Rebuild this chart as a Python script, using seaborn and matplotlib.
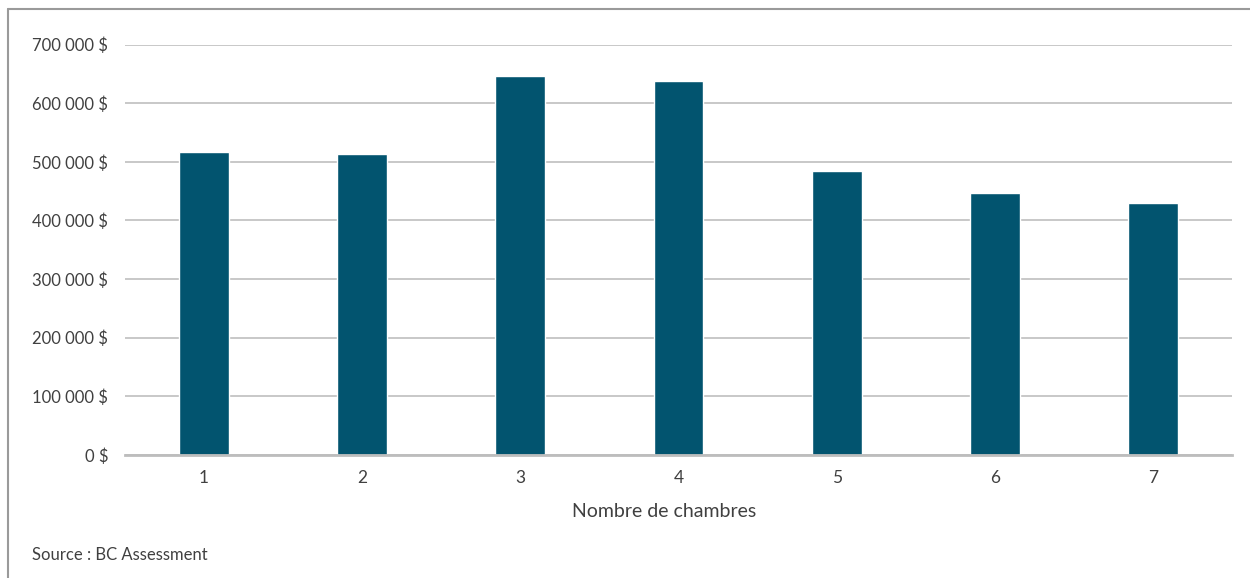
import matplotlib
matplotlib.use("Agg")
import matplotlib.pyplot as plt
from matplotlib.lines import Line2D
from matplotlib.ticker import FuncFormatter
import pandas as pd
import seaborn as sns

# Average assessed value by number of bedrooms
bedrooms = ["1", "2", "3", "4", "5", "6", "7"]
values = [516000, 513000, 647000, 637000, 485000, 447000, 430000]
y_ticks = [0, 100000, 200000, 300000, 400000, 500000, 600000, 700000]

x_title = "Nombre de chambres"
source_note = "Source : BC Assessment"

BAR = "#02546F"
TEXT = "#404040"
GRID = "#C8C8C8"

sns.set_theme(style="white")
plt.rcParams["font.family"] = ["Lato", "DejaVu Sans"]

df = pd.DataFrame({"chambres": bedrooms, "valeur": values})

fig = plt.figure(figsize=(12.5, 5.78), dpi=100)
ax = fig.add_axes([0.1, 0.2128, 0.8856, 0.7102])

sns.barplot(data=df, x="chambres", y="valeur", color=BAR, width=0.316,
            saturation=1, ax=ax, zorder=3)

ax.set_ylim(0, 700000)
ax.set_yticks(y_ticks)
ax.yaxis.set_major_formatter(FuncFormatter(
    lambda v, _: f"{int(v):,} $".replace(",", " ")))
ax.grid(axis="y", color=GRID, linewidth=1.4, zorder=0)
ax.grid(axis="x", visible=False)

for side in ["top", "right", "left"]:
    ax.spines[side].set_visible(False)
ax.spines["bottom"].set_color("#BDBDBD")
ax.spines["bottom"].set_linewidth(2)
ax.spines["bottom"].set_zorder(4)

ax.tick_params(axis="y", length=0, pad=12, labelsize=12, labelcolor=TEXT)
ax.tick_params(axis="x", length=0, pad=11, labelsize=12.5, labelcolor=TEXT)

ax.set_ylabel("")
ax.set_xlabel(x_title, fontsize=14, color=TEXT)
ax.xaxis.set_label_coords(0.487, -0.118)

fig.text(32 / 1250, 1 - 555 / 578, source_note, fontsize=12, color=TEXT,
         va="center", ha="left")

# Outer frame: top and left edges only
fig.add_artist(Line2D([7.5 / 1250, 1], [1 - 8.5 / 578, 1 - 8.5 / 578],
                      transform=fig.transFigure, color="#9A9A9A", linewidth=1.5))
fig.add_artist(Line2D([7.5 / 1250, 7.5 / 1250], [0, 1 - 8.5 / 578],
                      transform=fig.transFigure, color="#9A9A9A", linewidth=1.5))

fig.savefig("out.png", dpi=100, facecolor="white")
